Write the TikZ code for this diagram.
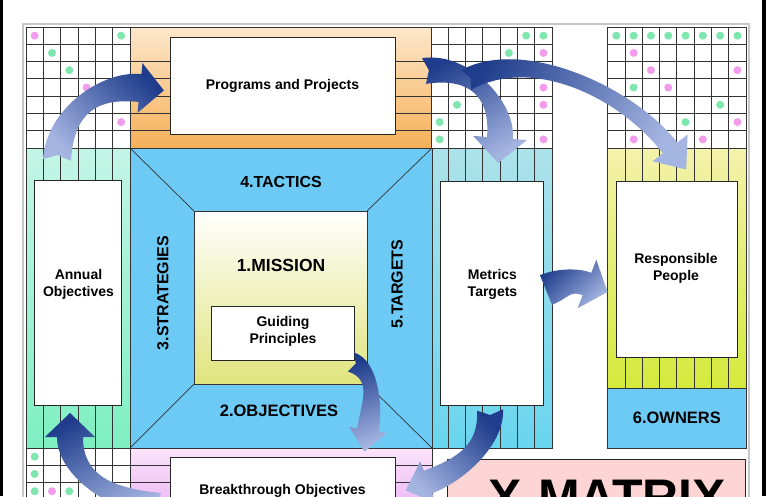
\documentclass[tikz,border=0pt]{standalone}
\usepackage{fontspec}
\setmainfont{Liberation Sans}
\usetikzlibrary{calc}
\definecolor{arrdark}{HTML}{1F3D8C}
\definecolor{arrlight}{HTML}{A5B5E2}
\definecolor{oratop}{HTML}{FDE7CA}
\definecolor{orabot}{HTML}{F5B058}
\definecolor{minttop}{HTML}{C4F5E6}
\definecolor{mintbot}{HTML}{7EEFC2}
\definecolor{blueX}{HTML}{6CCAF5}
\definecolor{cyantop}{HTML}{ADE2EA}
\definecolor{cyanbot}{HTML}{68D5EE}
\definecolor{ylwtop}{HTML}{F4F2AC}
\definecolor{ylwbot}{HTML}{D3EA3C}
\definecolor{misbot}{HTML}{E0E47C}
\definecolor{pinktop}{HTML}{FAE4FA}
\definecolor{pinkbot}{HTML}{E8A6F2}
\definecolor{xpink}{HTML}{FDD4D4}
\definecolor{dotpink}{HTML}{F29CEE}
\definecolor{dotgreen}{HTML}{7FE6AE}
\newcommand\celldot[5]{\fill[#5] ({#1+(#3+0.5)*17.3},{#2+(#4+0.5)*17.29}) circle (4pt);}
\def\notchdepth{5pt}
\newcommand\fatarrow[9]{%
\coordinate (S) at #1;\coordinate (Ca) at #2;\coordinate (Cb) at #3;\coordinate (E) at #4;
\coordinate (SL) at ($(S)!#5!90:(Ca)$);
\coordinate (SR) at ($(S)!#5!-90:(Ca)$);
\coordinate (EL) at ($(E)!#6!-90:(Cb)$);
\coordinate (ER) at ($(E)!#6!90:(Cb)$);
\coordinate (WL) at ($(E)!#7!-90:(Cb)$);
\coordinate (WR) at ($(E)!#7!90:(Cb)$);
\coordinate (T) at ($(E)!#8!180:(Cb)$);
\coordinate (N) at ($(S)!\notchdepth!(Ca)$);
\coordinate (CaL) at ($(Ca)+(SL)-(S)$);
\coordinate (CaR) at ($(Ca)+(SR)-(S)$);
\coordinate (CbL) at ($(Cb)+(EL)-(E)$);
\coordinate (CbR) at ($(Cb)+(ER)-(E)$);
\shade[#9] (SL) .. controls (CaL) and (CbL) .. (EL) -- (WL) -- (T) -- (WR) -- (ER) .. controls (CbR) and (CaR) .. (SR) -- (N) -- cycle;
}
\begin{document}
\begin{tikzpicture}[x=1pt,y=-1pt,
  gl/.style={draw=black!80,line width=0.9pt},
  wbox/.style={draw=black!85,line width=0.9pt,fill=white,inner sep=0pt},
  lab/.style={font=\bfseries\fontsize{14}{17}\selectfont,align=center,inner sep=0pt},
  biglab/.style={font=\bfseries\fontsize{16}{19}\selectfont,inner sep=0pt}]
\useasboundingbox (0,0) rectangle (768,496);
\fill[white] (0,0) rectangle (768,496);
\begin{scope}
\clip (0,0) rectangle (768,496);
% frame
\draw[black!22,line width=1.3pt] (23,24) rectangle (749,530);
% ---------- top-left grid
\fill[white] (26,27) rectangle (130,148);
\foreach \i in {0,...,6} \draw[gl] ({26+\i*17.33},27) -- ({26+\i*17.33},148);
\foreach \j in {0,...,7} \draw[gl] (26,{27+\j*17.29}) -- (130,{27+\j*17.29});
\celldot{26}{27}{0}{0}{dotpink}
\celldot{26}{27}{5}{0}{dotgreen}
\celldot{26}{27}{1}{1}{dotgreen}
\celldot{26}{27}{2}{2}{dotgreen}
\celldot{26}{27}{3}{3}{dotpink}
\celldot{26}{27}{5}{5}{dotpink}
% ---------- orange band
\shade[top color=oratop,bottom color=orabot] (130,27) rectangle (431,148);
\foreach \j in {2,...,6} {\draw[gl] (130,{27+\j*17.29}) -- (170,{27+\j*17.29});
  \draw[gl] (395,{27+\j*17.29}) -- (431,{27+\j*17.29});}
\draw[gl] (130,27) rectangle (431,148);
\node[wbox,minimum width=225pt,minimum height=97pt] (prog) at (282.5,85.5) {};
\node[lab] (progtxt) at (prog.center) {Programs and Projects};
% ---------- top-right grid
\fill[white] (431,27) rectangle (552,148);
\foreach \i in {0,...,7} \draw[gl] ({431+\i*17.29},27) -- ({431+\i*17.29},148);
\foreach \j in {0,...,7} \draw[gl] (431,{27+\j*17.29}) -- (552,{27+\j*17.29});
\celldot{431}{27}{5}{0}{dotgreen}
\celldot{431}{27}{6}{0}{dotgreen}
\celldot{431}{27}{4}{1}{dotgreen}
\celldot{431}{27}{6}{1}{dotpink}
\celldot{431}{27}{3}{2}{dotgreen}
\celldot{431}{27}{6}{3}{dotpink}
\celldot{431}{27}{1}{4}{dotgreen}
\celldot{431}{27}{6}{4}{dotpink}
\celldot{431}{27}{0}{5}{dotgreen}
\celldot{431}{27}{0}{6}{dotgreen}
\celldot{431}{27}{6}{6}{dotpink}
% ---------- far-right grid
\fill[white] (607.7,27) rectangle (746,148);
\foreach \i in {0,...,8} \draw[gl] ({607.7+\i*17.29},27) -- ({607.7+\i*17.29},148);
\foreach \j in {0,...,7} \draw[gl] (607.7,{27+\j*17.29}) -- (746,{27+\j*17.29});
\foreach \i in {0,...,7} {\celldot{607.7}{27}{\i}{0}{dotgreen}}
\celldot{607.7}{27}{1}{1}{dotpink}
\celldot{607.7}{27}{2}{2}{dotpink}
\celldot{607.7}{27}{7}{2}{dotpink}
\celldot{607.7}{27}{1}{3}{dotgreen}
\celldot{607.7}{27}{3}{3}{dotpink}
\celldot{607.7}{27}{0}{4}{dotpink}
\celldot{607.7}{27}{6}{4}{dotgreen}
\celldot{607.7}{27}{4}{5}{dotgreen}
\celldot{607.7}{27}{7}{5}{dotpink}
\celldot{607.7}{27}{1}{6}{dotpink}
\celldot{607.7}{27}{3}{6}{dotpink}
\celldot{607.7}{27}{5}{6}{dotpink}
% ---------- mint column
\shade[top color=minttop,bottom color=mintbot] (26,148) rectangle (130,448);
\foreach \i in {1,...,5} {\draw[gl] ({26+\i*17.33},148) -- ({26+\i*17.33},180);
  \draw[gl] ({26+\i*17.33},405) -- ({26+\i*17.33},448);}
\draw[gl] (26,148) rectangle (130,448);
\node[wbox,minimum width=87pt,minimum height=225pt] (annual) at (77.5,292.5) {};
\node[lab] (annualtxt) at (78.5,284) {Annual\\Objectives};
% ---------- centre square
\fill[blueX] (130,148) rectangle (432,448);
\shade[top color=white,bottom color=misbot] (194,211) rectangle (367,384);
\draw[gl,line width=0.7pt] (130,148) -- (194,211) (432,148) -- (367,211)
  (130,448) -- (194,384) (432,448) -- (367,384);
\draw[gl] (194,211) rectangle (367,384);
\draw[gl] (130,148) rectangle (432,448);
\node[wbox,minimum width=143pt,minimum height=54pt] (guide) at (282.5,333) {};
\node[lab] (guidetxt) at (283,331.5) {Guiding\\Principles};
\node[biglab,font=\bfseries\fontsize{17.5}{20}\selectfont] (mission) at (281,265) {1.MISSION};
\node[biglab] (tactics) at (281,182) {4.TACTICS};
\node[biglab,font=\bfseries\fontsize{16.5}{19}\selectfont] (objectives) at (279,411) {2.OBJECTIVES};
\node[biglab,rotate=90] (strategies) at (163,293) {3.STRATEGIES};
\node[biglab,rotate=90] (targets) at (397,284) {5.TARGETS};
% ---------- metrics column
\shade[top color=cyantop,bottom color=cyanbot] (432,148) rectangle (552,448);
\foreach \i in {1,...,6} {\draw[gl] ({431+\i*17.29},148) -- ({431+\i*17.29},181);
  \draw[gl] ({431+\i*17.29},405) -- ({431+\i*17.29},448);}
\draw[gl] (432,148) rectangle (552,448);
\node[wbox,minimum width=103pt,minimum height=224pt] (metrics) at (491.5,293) {};
\node[lab] (metricstxt) at (492.5,284) {Metrics\\Targets};
% ---------- responsible column
\shade[top color=ylwtop,bottom color=ylwbot] (607.7,148) rectangle (746,388);
\foreach \i in {1,...,7} {\draw[gl] ({607.7+\i*17.29},148) -- ({607.7+\i*17.29},181);
  \draw[gl] ({607.7+\i*17.29},357) -- ({607.7+\i*17.29},388);}
\draw[gl] (607.7,148) rectangle (746,388);
\node[wbox,minimum width=121pt,minimum height=176pt] (resp) at (676.5,269) {};
\node[lab] (resptxt) at (676,268.5) {Responsible\\People};
\node[draw=black!80,line width=0.9pt,fill=blueX,minimum width=138.3pt,minimum height=60pt,inner sep=0pt,
  font=\bfseries\fontsize{16.5}{19}\selectfont] (owners) at (676.85,418) {6.OWNERS};
% ---------- bottom row
\fill[white] (26,448) rectangle (130,520);
\foreach \i in {0,...,6} \draw[gl] ({26+\i*17.33},448) -- ({26+\i*17.33},520);
\foreach \j in {0,...,3} \draw[gl] (26,{448+\j*17.33}) -- (130,{448+\j*17.33});
\celldot{26}{448}{0}{0}{dotgreen}
\celldot{26}{448}{0}{1}{dotgreen}
\celldot{26}{448}{0}{2}{dotgreen}
\celldot{26}{448}{1}{2}{dotpink}
\celldot{26}{448}{2}{2}{dotgreen}
\shade[top color=pinktop,bottom color=pinkbot] (130,448) rectangle (432,530);
\foreach \j in {1,2} {\draw[gl] (130,{448+\j*17.33}) -- (170,{448+\j*17.33});
  \draw[gl] (395,{448+\j*17.33}) -- (432,{448+\j*17.33});}
\draw[gl] (130,448) rectangle (432,530);
\node[wbox,minimum width=225pt,minimum height=68pt] (break) at (282.5,491) {};
\node[lab] (breaktxt) at (break.center) {Breakthrough Objectives};
\node[draw=black!85,line width=0.9pt,fill=xpink,minimum width=298pt,minimum height=80pt,inner sep=0pt] (xm) at (596,499) {};
\node[anchor=base,inner sep=0pt,font=\bfseries\fontsize{50}{55}\selectfont] (xmtxt) at (607,514) {X-MATRIX};
% ---------- arrows
\fatarrow{(57,160)}{(60,110)}{(100,84)}{(140,88)}{14pt}{14pt}{25pt}{24pt}{top color=arrdark,bottom color=arrlight,shading angle=-45}
\fatarrow{(424,71)}{(470,64)}{(503,100)}{(500,138)}{13pt}{13pt}{27pt}{25pt}{top color=arrdark,bottom color=arrlight,shading angle=30}
\fatarrow{(466,80)}{(530,45)}{(630,95)}{(670,148)}{11pt}{9pt}{22pt}{27pt}{top color=arrdark,bottom color=arrlight,shading angle=60}
\def\notchdepth{0pt}
\fatarrow{(546,290)}{(563,283)}{(574,279)}{(587,284)}{16pt}{12pt}{26pt}{22pt}{top color=arrdark,bottom color=arrlight,shading angle=45}
\def\notchdepth{5pt}
\fatarrow{(351,362)}{(376,370)}{(372,405)}{(368,430)}{10pt}{11pt}{19pt}{22pt}{top color=arrdark,bottom color=arrlight,shading angle=20}
\fatarrow{(490,410)}{(492,445)}{(460,470)}{(428,482)}{13pt}{12pt}{22pt}{24pt}{top color=arrdark,bottom color=arrlight,shading angle=-45}
\fatarrow{(160,505)}{(110,500)}{(70,475)}{(70,437)}{12pt}{13pt}{25pt}{24pt}{top color=arrdark,bottom color=arrlight,shading angle=30}
% ---------- edge bars
\fill[black] (0,0) rectangle (2.5,496);
\fill[black] (762,0) rectangle (766,496);
\end{scope}
\end{tikzpicture}
\end{document}
